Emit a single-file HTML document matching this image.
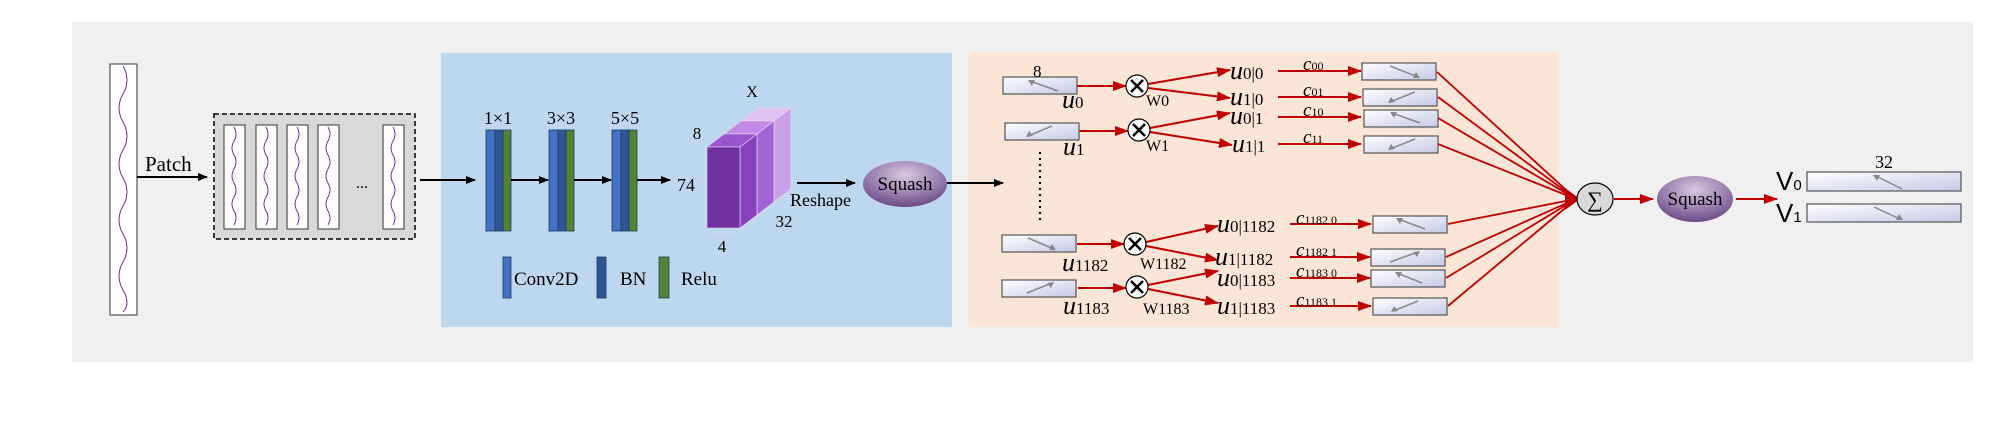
<!DOCTYPE html>
<html><head><meta charset="utf-8"><style>
html,body{margin:0;padding:0;background:#fff;}
svg{display:block;}
text{font-family:"Liberation Serif",serif;}
</style></head><body>
<svg width="2000" height="422" viewBox="0 0 2000 422" xmlns="http://www.w3.org/2000/svg">
<defs>
<marker id="ak" markerWidth="10" markerHeight="8" refX="9" refY="4" orient="auto" markerUnits="userSpaceOnUse"><path d="M0,0 L10,4 L0,8 Z" fill="#000"/></marker>
<marker id="ar" markerWidth="14" markerHeight="10" refX="13" refY="5" orient="auto" markerUnits="userSpaceOnUse"><path d="M0,0 L14,5 L0,10 Z" fill="#c00000"/></marker>
<linearGradient id="bx" x1="0" y1="0" x2="1" y2="1"><stop offset="0" stop-color="#ffffff"/><stop offset="1" stop-color="#c5c9e6"/></linearGradient>
<radialGradient id="sq" cx="0.5" cy="0.3" r="0.7"><stop offset="0" stop-color="#d8c8e0"/><stop offset="0.6" stop-color="#9a7fae"/><stop offset="1" stop-color="#6a4a86"/></radialGradient>
<g id="box"><rect x="0" y="0" width="74" height="17" fill="url(#bx)" stroke="#555" stroke-width="1.2"/></g>
</defs>
<rect x="72" y="22" width="1901" height="340" fill="#f0f0f0"/>
<rect x="441" y="53" width="511" height="274" fill="#bdd7ee"/>
<rect x="968" y="52" width="591" height="275" fill="#fbe5d6"/>

<!-- signal bar -->
<rect x="110" y="64" width="27" height="251" fill="#fff" stroke="#333" stroke-width="1"/>
<path d="M123,66 Q131,80 123,94 T123,122 T123,150 T123,178 T123,206 T123,234 T123,262 T123,290 T123,312" fill="none" stroke="#7030a0" stroke-width="1"/>
<line x1="137" y1="177" x2="207" y2="177" stroke="#000" stroke-width="2" marker-end="url(#ak)"/>
<text x="145" y="171" font-size="21">Patch</text>

<!-- dashed patch box -->
<rect x="214" y="114" width="201" height="125" fill="#d9d9d9" stroke="#000" stroke-width="1.5" stroke-dasharray="5,3"/>
<g fill="#fff" stroke="#333" stroke-width="1">
<rect x="224" y="125" width="21" height="104"/><rect x="256" y="125" width="21" height="104"/><rect x="287" y="125" width="21" height="104"/><rect x="318" y="125" width="21" height="104"/><rect x="383" y="125" width="21" height="104"/>
</g>
<g fill="none" stroke="#7030a0" stroke-width="1">
<path d="M234,127 Q238,134 234,141 T234,155 T234,169 T234,183 T234,197 T234,211 T234,225"/>
<path d="M266,127 Q270,134 266,141 T266,155 T266,169 T266,183 T266,197 T266,211 T266,225"/>
<path d="M297,127 Q301,134 297,141 T297,155 T297,169 T297,183 T297,197 T297,211 T297,225"/>
<path d="M328,127 Q332,134 328,141 T328,155 T328,169 T328,183 T328,197 T328,211 T328,225"/>
<path d="M393,127 Q397,134 393,141 T393,155 T393,169 T393,183 T393,197 T393,211 T393,225"/>
</g>
<text x="362" y="188" font-size="16" text-anchor="middle">...</text>
<line x1="420" y1="180" x2="475" y2="180" stroke="#000" stroke-width="2" marker-end="url(#ak)"/>

<!-- conv blocks -->
<g>
<rect x="486" y="130" width="9" height="101" fill="#4472c4" stroke="#1f3864" stroke-width="0.8"/><rect x="495" y="130" width="8" height="101" fill="#2f5597" stroke="#1f3864" stroke-width="0.8"/><rect x="503" y="130" width="8" height="101" fill="#548235" stroke="#1f3864" stroke-width="0.8"/>
<rect x="549" y="130" width="9" height="101" fill="#4472c4" stroke="#1f3864" stroke-width="0.8"/><rect x="558" y="130" width="8" height="101" fill="#2f5597" stroke="#1f3864" stroke-width="0.8"/><rect x="566" y="130" width="8" height="101" fill="#548235" stroke="#1f3864" stroke-width="0.8"/>
<rect x="612" y="130" width="9" height="101" fill="#4472c4" stroke="#1f3864" stroke-width="0.8"/><rect x="621" y="130" width="8" height="101" fill="#2f5597" stroke="#1f3864" stroke-width="0.8"/><rect x="629" y="130" width="8" height="101" fill="#548235" stroke="#1f3864" stroke-width="0.8"/>
</g>
<g font-size="18" text-anchor="middle"><text x="498" y="124">1×1</text><text x="561" y="124">3×3</text><text x="625" y="124">5×5</text></g>
<line x1="511" y1="180" x2="548" y2="180" stroke="#000" stroke-width="2" marker-end="url(#ak)"/>
<line x1="574" y1="180" x2="611" y2="180" stroke="#000" stroke-width="2" marker-end="url(#ak)"/>
<line x1="637" y1="180" x2="670" y2="180" stroke="#000" stroke-width="2" marker-end="url(#ak)"/>
<text x="677" y="191" font-size="18">74</text>

<!-- cube -->
<g stroke="#e8dcf0" stroke-width="0.6">
<polygon points="741,121 758,108 791,108 774,121" fill="#e0c2f2"/>
<polygon points="774,121 791,108 791,189 774,202" fill="#c9a0e6"/>
<rect x="741" y="121" width="33" height="81" fill="#d4aaf0"/>
<polygon points="724,134 741,121 774,121 757,134" fill="#c28ae6"/>
<polygon points="757,134 774,121 774,202 757,215" fill="#a264d4"/>
<rect x="724" y="134" width="33" height="81" fill="#b070e0"/>
<polygon points="707,147 724,134 757,134 740,147" fill="#9b55cc"/>
<polygon points="740,147 757,134 757,215 740,228" fill="#8840bf"/>
<rect x="707" y="147" width="33" height="81" fill="#7030a0"/>
</g>
<path d="M705,146 L704,150 M704,150 L704,226 L708,233 L738,233 L742,229 M743,229 L789,192" fill="none" stroke="#d0d8e8" stroke-width="1"/>
<text x="752" y="97" font-size="16" text-anchor="middle">X</text>
<text x="697" y="139" font-size="17" text-anchor="middle">8</text>
<text x="722" y="252" font-size="17" text-anchor="middle">4</text>
<text x="784" y="227" font-size="17" text-anchor="middle">32</text>
<line x1="797" y1="183" x2="855" y2="183" stroke="#000" stroke-width="2" marker-end="url(#ak)"/>
<text x="790" y="206" font-size="18">Reshape</text>
<ellipse cx="905" cy="184" rx="42" ry="23" fill="url(#sq)"/>
<text x="905" y="190" font-size="19" text-anchor="middle">Squash</text>
<line x1="947" y1="183" x2="1003" y2="183" stroke="#000" stroke-width="2" marker-end="url(#ak)"/>

<!-- legend -->
<rect x="503" y="257" width="8" height="41" fill="#4472c4" stroke="#1f3864" stroke-width="0.8"/>
<text x="514" y="285" font-size="19">Conv2D</text>
<rect x="597" y="257" width="9" height="41" fill="#2f5597" stroke="#1f3864" stroke-width="0.8"/>
<text x="620" y="285" font-size="19">BN</text>
<rect x="659" y="257" width="10" height="41" fill="#548235" stroke="#1f3864" stroke-width="0.8"/>
<text x="681" y="285" font-size="19">Relu</text>

<!-- capsule section -->
<g stroke="#c00000" stroke-width="2" fill="none">
<line x1="1077" y1="86" x2="1126" y2="86" marker-end="url(#ar)"/>
<line x1="1079" y1="131" x2="1128" y2="131" marker-end="url(#ar)"/>
<line x1="1077" y1="244" x2="1124" y2="244" marker-end="url(#ar)"/>
<line x1="1078" y1="288" x2="1126" y2="288" marker-end="url(#ar)"/>
<line x1="1148" y1="84" x2="1230" y2="70" marker-end="url(#ar)"/>
<line x1="1148" y1="88" x2="1230" y2="98" marker-end="url(#ar)"/>
<line x1="1150" y1="128" x2="1230" y2="113" marker-end="url(#ar)"/>
<line x1="1150" y1="132" x2="1232" y2="145" marker-end="url(#ar)"/>
<line x1="1146" y1="242" x2="1218" y2="226" marker-end="url(#ar)"/>
<line x1="1146" y1="246" x2="1218" y2="260" marker-end="url(#ar)"/>
<line x1="1148" y1="285" x2="1218" y2="271" marker-end="url(#ar)"/>
<line x1="1148" y1="289" x2="1218" y2="303" marker-end="url(#ar)"/>
<line x1="1278" y1="71" x2="1361" y2="71" marker-end="url(#ar)"/>
<line x1="1278" y1="97" x2="1361" y2="97" marker-end="url(#ar)"/>
<line x1="1278" y1="117" x2="1361" y2="117" marker-end="url(#ar)"/>
<line x1="1278" y1="144" x2="1361" y2="144" marker-end="url(#ar)"/>
<line x1="1290" y1="224" x2="1371" y2="224" marker-end="url(#ar)"/>
<line x1="1290" y1="257" x2="1370" y2="257" marker-end="url(#ar)"/>
<line x1="1290" y1="278" x2="1370" y2="278" marker-end="url(#ar)"/>
<line x1="1290" y1="306" x2="1371" y2="306" marker-end="url(#ar)"/>
<g stroke-width="1.8">
<line x1="1437" y1="72" x2="1576" y2="199"/>
<line x1="1438" y1="97" x2="1576" y2="199"/>
<line x1="1438" y1="118" x2="1576" y2="199"/>
<line x1="1438" y1="144" x2="1576" y2="199"/>
<line x1="1448" y1="224" x2="1576" y2="199"/>
<line x1="1446" y1="257" x2="1576" y2="199"/>
<line x1="1446" y1="278" x2="1576" y2="199"/>
<line x1="1448" y1="306" x2="1576" y2="199"/>
</g>
<line x1="1614" y1="199" x2="1653" y2="199" marker-end="url(#ar)"/>
<line x1="1736" y1="199" x2="1777" y2="199" marker-end="url(#ar)"/>
</g>
<polygon points="1565,188 1580,199 1565,210" fill="#c00000"/>

<!-- input boxes -->
<use href="#box" x="1003" y="77"/><use href="#box" x="1005" y="123"/><use href="#box" x="1002" y="235"/><use href="#box" x="1002" y="280"/>
<!-- output boxes -->
<use href="#box" x="1362" y="63"/><use href="#box" x="1363" y="89"/><use href="#box" x="1364" y="110"/><use href="#box" x="1364" y="136"/>
<use href="#box" x="1373" y="216"/><use href="#box" x="1371" y="249"/><use href="#box" x="1371" y="270"/><use href="#box" x="1373" y="298"/>
<g stroke="#888" stroke-width="1.5" fill="none" marker-end="">
<line x1="1058" y1="91" x2="1030" y2="81"/><line x1="1052" y1="126" x2="1028" y2="136"/><line x1="1028" y1="238" x2="1054" y2="249"/><line x1="1027" y1="293" x2="1052" y2="283"/>
<line x1="1390" y1="66" x2="1418" y2="77"/><line x1="1415" y1="92" x2="1390" y2="102"/><line x1="1392" y1="113" x2="1420" y2="123"/><line x1="1415" y1="139" x2="1390" y2="149"/>
<line x1="1398" y1="219" x2="1425" y2="229"/><line x1="1390" y1="262" x2="1418" y2="252"/><line x1="1397" y1="273" x2="1422" y2="283"/><line x1="1418" y1="301" x2="1393" y2="311"/>
</g>
<g fill="#888">
<polygon points="1028,80 1035,80 1032,86"/><polygon points="1026,137 1029,131 1033,136"/><polygon points="1056,250 1049,250 1052,244"/><polygon points="1054,282 1051,288 1047,283"/>
<polygon points="1420,78 1413,78 1416,72"/><polygon points="1388,103 1391,97 1395,102"/><polygon points="1390,112 1397,112 1394,118"/><polygon points="1388,150 1391,144 1395,149"/>
<polygon points="1396,218 1403,218 1400,224"/><polygon points="1420,251 1417,257 1413,252"/><polygon points="1395,272 1402,272 1399,278"/><polygon points="1391,312 1394,306 1398,311"/>
</g>

<!-- multiply circles -->
<g fill="#fff" stroke="#000" stroke-width="1.2">
<ellipse cx="1137" cy="86" rx="11" ry="11"/><ellipse cx="1139" cy="130" rx="11" ry="11"/><ellipse cx="1135" cy="244" rx="11" ry="11"/><ellipse cx="1137" cy="287" rx="11" ry="11"/>
</g>
<g stroke="#000" stroke-width="2.5">
<path d="M1131,80 L1143,92 M1143,80 L1131,92"/><path d="M1133,124 L1145,136 M1145,124 L1133,136"/><path d="M1129,238 L1141,250 M1141,238 L1129,250"/><path d="M1131,281 L1143,293 M1143,281 L1131,293"/>
</g>
<line x1="1040" y1="152" x2="1040" y2="220" stroke="#000" stroke-width="2" stroke-dasharray="2,4"/>

<!-- labels -->
<g font-size="17"><text x="1033" y="77">8</text>
<text x="1062" y="108"><tspan font-style="italic" font-size="26">u</tspan>0</text>
<text x="1063" y="155"><tspan font-style="italic" font-size="26">u</tspan>1</text>
<text x="1062" y="271"><tspan font-style="italic" font-size="26">u</tspan>1182</text>
<text x="1063" y="314"><tspan font-style="italic" font-size="26">u</tspan>1183</text>
<text x="1146" y="106" font-size="16">W0</text>
<text x="1146" y="151" font-size="16">W1</text>
<text x="1140" y="269" font-size="16">W1182</text>
<text x="1143" y="314" font-size="16">W1183</text>
<text x="1230" y="79"><tspan font-style="italic" font-size="26">u</tspan>0|0</text>
<text x="1230" y="105"><tspan font-style="italic" font-size="26">u</tspan>1|0</text>
<text x="1230" y="124"><tspan font-style="italic" font-size="26">u</tspan>0|1</text>
<text x="1232" y="152"><tspan font-style="italic" font-size="26">u</tspan>1|1</text>
<text x="1217" y="232"><tspan font-style="italic" font-size="26">u</tspan>0|1182</text>
<text x="1215" y="265"><tspan font-style="italic" font-size="26">u</tspan>1|1182</text>
<text x="1217" y="286"><tspan font-style="italic" font-size="26">u</tspan>0|1183</text>
<text x="1217" y="314"><tspan font-style="italic" font-size="26">u</tspan>1|1183</text>
</g>
<g font-size="12">
<text x="1303" y="70"><tspan font-style="italic" font-size="19">c</tspan>00</text>
<text x="1303" y="96"><tspan font-style="italic" font-size="19">c</tspan>01</text>
<text x="1303" y="116"><tspan font-style="italic" font-size="19">c</tspan>10</text>
<text x="1303" y="143"><tspan font-style="italic" font-size="19">c</tspan>11</text>
<text x="1296" y="224"><tspan font-style="italic" font-size="19">c</tspan>1182 0</text>
<text x="1296" y="256"><tspan font-style="italic" font-size="19">c</tspan>1182 1</text>
<text x="1296" y="277"><tspan font-style="italic" font-size="19">c</tspan>1183 0</text>
<text x="1296" y="306"><tspan font-style="italic" font-size="19">c</tspan>1183 1</text>
</g>

<!-- sum, squash, outputs -->
<ellipse cx="1595" cy="199" rx="18" ry="16" fill="#d9d9d9" stroke="#000" stroke-width="1.2"/>
<text x="1595" y="207" font-size="22" text-anchor="middle">∑</text>
<ellipse cx="1695" cy="199" rx="38" ry="23" fill="url(#sq)"/>
<text x="1695" y="205" font-size="19" text-anchor="middle">Squash</text>
<rect x="1807" y="172" width="154" height="19" fill="url(#bx)" stroke="#555" stroke-width="1.2"/>
<rect x="1807" y="204" width="154" height="18" fill="url(#bx)" stroke="#555" stroke-width="1.2"/>
<line x1="1902" y1="189" x2="1876" y2="176" stroke="#888" stroke-width="1.5"/><polygon points="1873,175 1880,175 1877,181" fill="#888"/>
<line x1="1874" y1="207" x2="1900" y2="219" stroke="#888" stroke-width="1.5"/><polygon points="1903,220 1896,220 1899,214" fill="#888"/>
<text x="1884" y="168" font-size="18" text-anchor="middle">32</text>
<text x="1776" y="190" font-family="Liberation Sans,sans-serif" font-size="26" style="font-family:'Liberation Sans',sans-serif">V<tspan font-size="15">0</tspan></text>
<text x="1776" y="222" font-size="26" style="font-family:'Liberation Sans',sans-serif">V<tspan font-size="15">1</tspan></text>
</svg>
</body></html>
